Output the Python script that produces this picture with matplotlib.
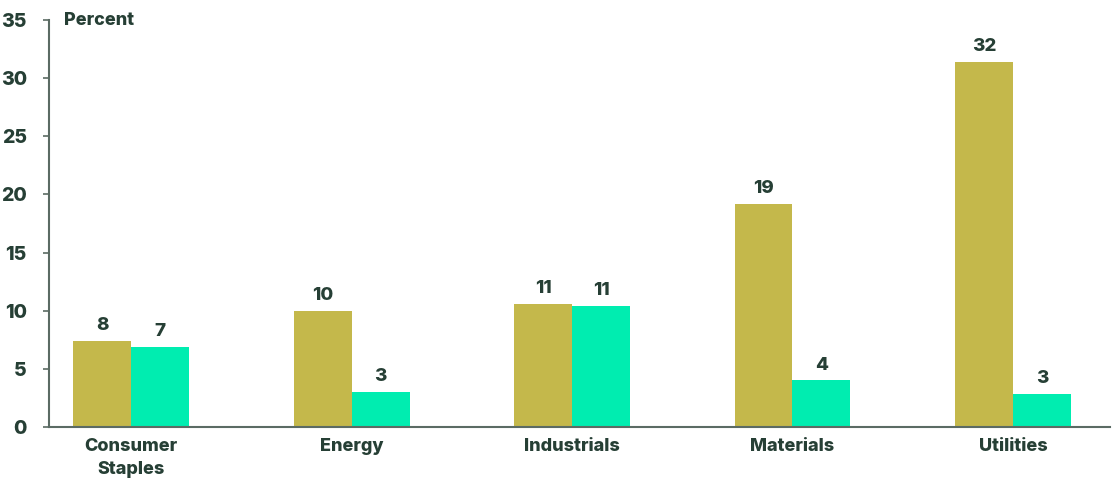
import matplotlib.pyplot as plt
import numpy as np

categories = ['Consumer\nStaples', 'Energy', 'Industrials', 'Materials', 'Utilities']
series_a = [7.4, 10.0, 10.6, 19.2, 31.4]
series_b = [6.9, 3.0, 10.4, 4.0, 2.8]
labels_a = ['8', '10', '11', '19', '32']
labels_b = ['7', '3', '11', '4', '3']
yticks = [0, 5, 10, 15, 20, 25, 30, 35]

text_col = '#263f35'
axis_col = '#5b6b64'
col_a = '#c4b84b'
col_b = '#00edb0'
wt = 'heavy'

plt.rcParams['font.family'] = ['Inter', 'DejaVu Sans']

fig = plt.figure(figsize=(11.15, 4.79), dpi=100)
ax = fig.add_axes([0.044, 0.1086, 0.9515, 0.8494])

x = np.arange(len(categories))
w = 0.263
ba = ax.bar(x - w / 2, series_a, w, color=col_a)
bb = ax.bar(x + w / 2, series_b, w, color=col_b)

for bars, labs in ((ba, labels_a), (bb, labels_b)):
    for b, lab in zip(bars, labs):
        ax.text(b.get_x() + b.get_width() / 2, b.get_height() + 0.6, lab,
                ha='center', va='bottom', fontsize=13.5, fontweight=wt, color=text_col)

ax.set_xlim(-0.372, 4.44)
ax.set_ylim(0, 35)
ax.set_yticks(yticks)
ax.set_xticks(x)
ax.set_xticklabels(categories, fontsize=13, fontweight=wt, color=text_col, linespacing=1.45)
ax.tick_params(axis='x', length=0, pad=8)
ax.tick_params(axis='y', length=4, width=1.2, color=axis_col, labelsize=14, labelcolor=text_col, pad=12)
for lab in ax.get_yticklabels():
    lab.set_fontweight(wt)

for s in ('top', 'right'):
    ax.spines[s].set_visible(False)
for s in ('left', 'bottom'):
    ax.spines[s].set_color(axis_col)
    ax.spines[s].set_linewidth(1.5)

ax.text(0.014, 35, 'Percent', transform=ax.get_yaxis_transform(), ha='left', va='center',
        fontsize=13, fontweight=wt, color=text_col)

fig.savefig('out.png', dpi=100)
